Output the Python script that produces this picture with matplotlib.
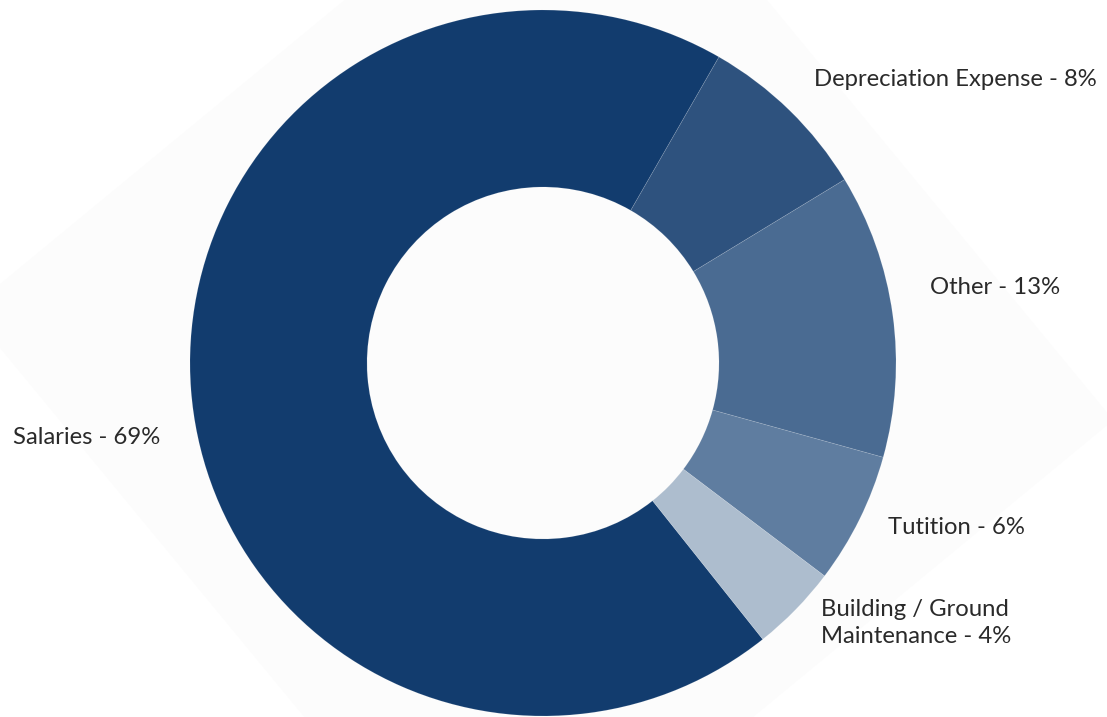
import numpy as np
import matplotlib.pyplot as plt
from matplotlib.patches import Polygon

# expense breakdown (percent of total)
labels = ["Salaries", "Depreciation Expense", "Other", "Tutition", "Building / Ground\nMaintenance"]
values = [69, 8, 13, 6, 4]
colors = ["#123c6e", "#2e527e", "#4a6b92", "#5f7da0", "#adbdce"]

# label anchors in pixel space (x, y from top) and alignment
label_pos = [(160, 437), (814, 79), (930, 287), (888, 528), (821, 623)]
label_ha = ["right", "left", "left", "left", "left"]

W, H = 1107, 717
CX, CY = 543, H - 363
R_OUT, R_IN = 353, 176

plt.rcParams["font.family"] = ["Lato", "DejaVu Sans"]

fig = plt.figure(figsize=(W / 100, H / 100), dpi=100)
ax = fig.add_axes([0, 0, 1, 1])

# faint rotated square behind the ring
ang = np.deg2rad(174.5 + 90 * np.arange(4))
half_diag = 575
sq = np.column_stack([541 + half_diag * np.cos(ang), (H - 365) + half_diag * np.sin(ang)])
ax.add_patch(Polygon(sq, closed=True, facecolor="#fcfcfc", edgecolor="none", zorder=0))

wedges, _ = ax.pie(values, colors=colors, startangle=-51.5, counterclock=False,
                   radius=R_OUT, center=(CX, CY), frame=True,
                   wedgeprops=dict(width=R_OUT - R_IN, edgecolor=(1, 1, 1, 0.12), linewidth=0.6))
ax.set_xlim(0, W)
ax.set_ylim(0, H)
ax.set_aspect("equal")
ax.axis("off")

for lab, v, (x, y), ha in zip(labels, values, label_pos, label_ha):
    ax.text(x, H - y, f"{lab} - {v}%", ha=ha, va="center", fontsize=17.2,
            color="#2a2a2a", linespacing=1.32)

fig.savefig("out.png", dpi=100, facecolor="white")
